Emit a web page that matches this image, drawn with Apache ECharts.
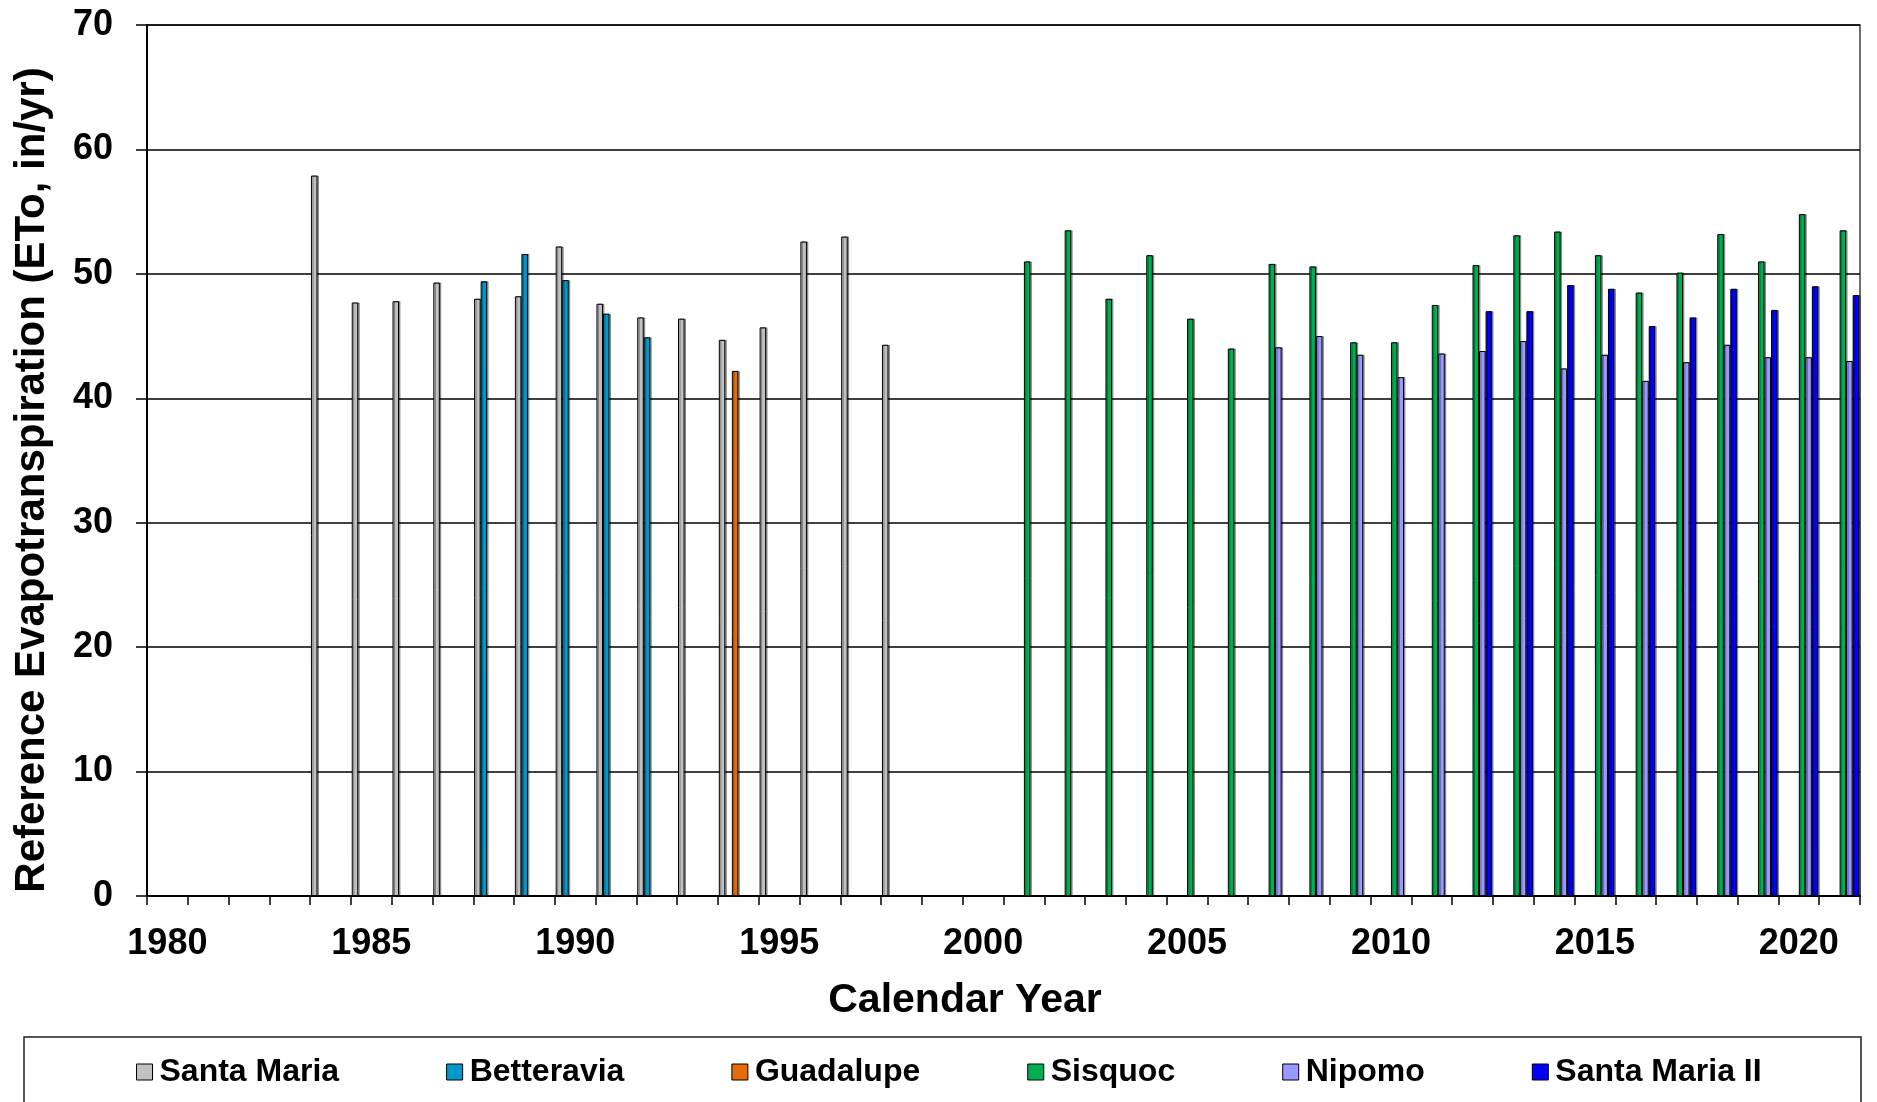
<!DOCTYPE html>
<html>
<head>
<meta charset="utf-8">
<script src="https://cdn.jsdelivr.net/npm/echarts@6/dist/echarts.min.js"></script>
<style>
  html, body { margin: 0; padding: 0; background: #fff; }
  #chart { width: 1877px; height: 1102px; }
</style>
</head>
<body>
<div id="chart"></div>
<script>
// Categories: calendar years 1980-2021
const years = ["1980","1981","1982","1983","1984","1985","1986","1987","1988","1989",
  "1990","1991","1992","1993","1994","1995","1996","1997","1998","1999",
  "2000","2001","2002","2003","2004","2005","2006","2007","2008","2009",
  "2010","2011","2012","2013","2014","2015","2016","2017","2018","2019",
  "2020","2021"];

const seriesNames = ["Santa Maria", "Betteravia", "Guadalupe", "Sisquoc", "Nipomo", "Santa Maria II"];

// ETo (in/yr), one value per year, null = no data
const santaMaria = [null,null,null,null,57.9,47.7,47.8,49.3,48.0,48.2,
  52.2,47.6,46.5,46.4,44.7,45.7,52.6,53.0,44.3,null,
  null,null,null,null,null,null,null,null,null,null,
  null,null,null,null,null,null,null,null,null,null,
  null,null];
const betteravia = [null,null,null,null,null,null,null,null,49.4,51.6,
  49.5,46.8,44.9,null,null,null,null,null,null,null,
  null,null,null,null,null,null,null,null,null,null,
  null,null,null,null,null,null,null,null,null,null,
  null,null];
const guadalupe = [null,null,null,null,null,null,null,null,null,null,
  null,null,null,null,42.2,null,null,null,null,null,
  null,null,null,null,null,null,null,null,null,null,
  null,null,null,null,null,null,null,null,null,null,
  null,null];
const sisquoc = [null,null,null,null,null,null,null,null,null,null,
  null,null,null,null,null,null,null,null,null,null,
  null,51.0,53.5,48.0,51.5,46.4,44.0,50.8,50.6,44.5,
  44.5,47.5,50.7,53.1,53.4,51.5,48.5,50.1,53.2,51.0,
  54.8,53.5];
const nipomo = [null,null,null,null,null,null,null,null,null,null,
  null,null,null,null,null,null,null,null,null,null,
  null,null,null,null,null,null,null,44.1,45.0,43.5,
  41.7,43.6,43.8,44.6,42.4,43.5,41.4,42.9,44.3,43.3,
  43.3,43.0];
const santaMariaII = [null,null,null,null,null,null,null,null,null,null,
  null,null,null,null,null,null,null,null,null,null,
  null,null,null,null,null,null,null,null,null,null,
  null,null,47.0,47.0,49.1,48.8,45.8,46.5,48.8,47.1,
  49.0,48.3];

const yTicks = [0, 10, 20, 30, 40, 50, 60, 70];

const seriesValues = [santaMaria, betteravia, guadalupe, sisquoc, nipomo, santaMariaII];
const seriesColors = ["#C0C0C0", "#0099CC", "#E46C0A", "#00B050", "#9999FF", "#0000FF"];

const FONT = "'Liberation Sans', Arial, Helvetica, sans-serif";

const chart = echarts.init(document.getElementById('chart'), null, { renderer: 'canvas' });

const option = {
  backgroundColor: '#ffffff',
  animation: false,
  grid: {
    left: 147, right: 17, top: 25, bottom: 206,
    show: true, borderColor: '#404040', borderWidth: 1.5, backgroundColor: 'transparent'
  },
  xAxis: {
    type: 'category',
    data: years,
    boundaryGap: true,
    axisLine: { show: true, lineStyle: { color: '#000', width: 2 } },
    axisTick: { show: true, interval: 0, length: 9, lineStyle: { color: '#000', width: 1.5 } },
    axisLabel: {
      interval: 4, margin: 30,
      fontFamily: FONT, fontSize: 36, fontWeight: 'bold', color: '#000'
    },
    splitLine: { show: false }
  },
  yAxis: {
    type: 'value',
    min: yTicks[0], max: yTicks[yTicks.length - 1], interval: 10,
    axisLine: { show: true, lineStyle: { color: '#000', width: 2 } },
    axisTick: { show: true, length: 11, lineStyle: { color: '#000', width: 1.5 } },
    axisLabel: {
      margin: 34,
      fontFamily: FONT, fontSize: 36, fontWeight: 'bold', color: '#000'
    },
    splitLine: { show: true, lineStyle: { color: '#000', width: 1.5 } }
  },
  legend: {
    data: seriesNames,
    left: 136, top: 1056,
    itemWidth: 16, itemHeight: 16, itemGap: 107,
    padding: 0,
    icon: 'rect',
    itemStyle: { borderColor: '#000', borderWidth: 1, shadowColor: 'transparent', shadowBlur: 0, shadowOffsetX: 0, shadowOffsetY: 0 },
    textStyle: { fontFamily: FONT, fontSize: 32, fontWeight: 'bold', color: '#000', padding: [0, 0, 0, 2] }
  },
  graphic: [
    {
      type: 'rect', silent: true,
      shape: { x: 24, y: 1037, width: 1837, height: 120 },
      style: { fill: 'none', stroke: '#202020', lineWidth: 1.5 }
    },
    {
      type: 'text', silent: true,
      x: 965, y: 1001,
      style: { text: 'Calendar Year', font: "bold 41px " + FONT, fill: '#000', align: 'center', verticalAlign: 'middle' }
    },
    {
      type: 'text', silent: true,
      x: 32, y: 480, rotation: Math.PI / 2,
      style: { text: 'Reference Evapotranspiration (ETo, in/yr)', font: "bold 42px " + FONT, fill: '#000', align: 'center', verticalAlign: 'middle' }
    }
  ],
  series: seriesNames.map((name, i) => ({
    name: name,
    type: 'bar',
    data: seriesValues[i],
    barGap: '0%',
    barCategoryGap: '4%',
    itemStyle: {
      color: seriesColors[i],
      borderColor: '#000',
      borderWidth: 1,
      shadowColor: 'rgba(0,0,0,0.35)',
      shadowOffsetX: 1.5,
      shadowOffsetY: 0,
      shadowBlur: 0
    },
    emphasis: { disabled: true }
  }))
};

chart.setOption(option);
</script>
</body>
</html>
